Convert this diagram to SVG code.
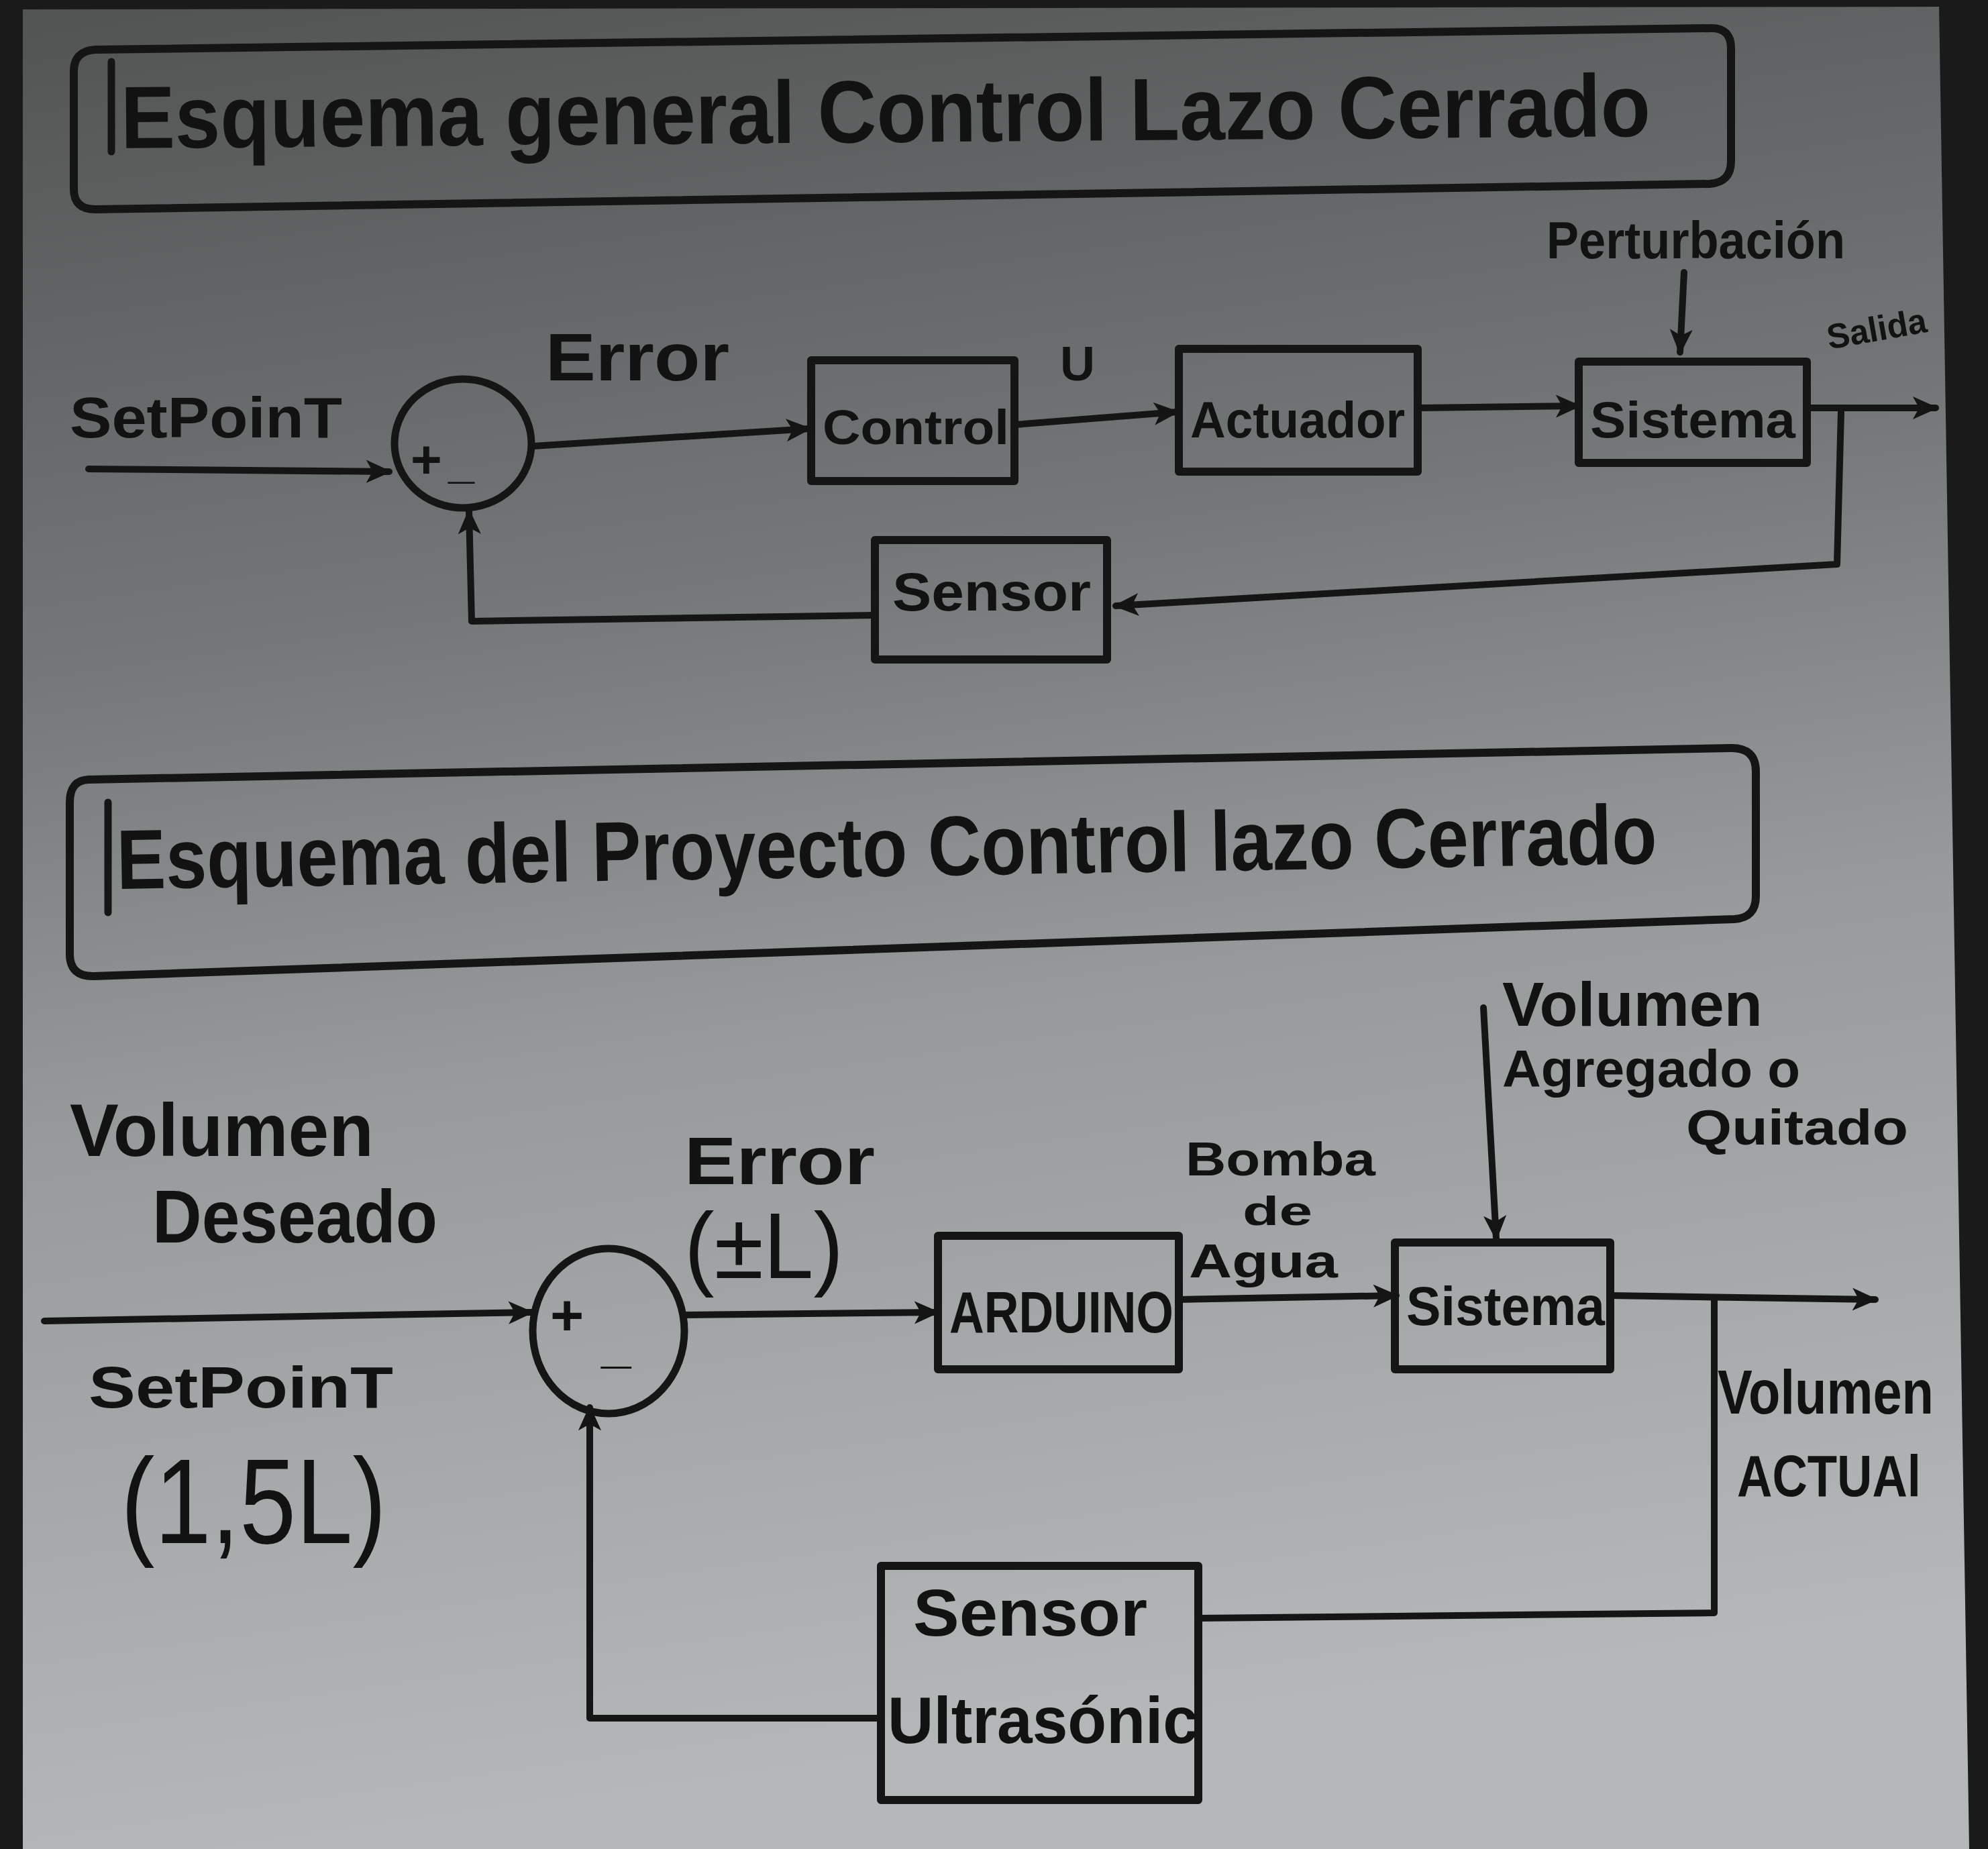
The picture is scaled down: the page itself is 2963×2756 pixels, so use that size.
<svg xmlns="http://www.w3.org/2000/svg" width="2963" height="2756" viewBox="0 0 2963 2756">
  <defs>
    <linearGradient id="paper" x1="0" y1="0" x2="0.15" y2="1">
      <stop offset="0" stop-color="#525454"/>
      <stop offset="0.35" stop-color="#737777"/>
      <stop offset="0.6" stop-color="#969a9a"/>
      <stop offset="1" stop-color="#b4b8b8"/>
    </linearGradient>
    <marker id="arr" viewBox="0 0 10 10" refX="9" refY="5" markerWidth="38" markerHeight="38" markerUnits="userSpaceOnUse" orient="auto">
      <path d="M0,0.5 L10,5 L0,9.5 L2.5,5 z" fill="#141414"/>
    </marker>
  </defs>
  <style>
    .ink { fill: none; stroke: #151515; stroke-width: 11; stroke-linecap: round; stroke-linejoin: round; }
    .box { fill: none; stroke: #151515; stroke-width: 12; stroke-linejoin: round; }
    .wire { fill: none; stroke: #151515; stroke-width: 10; stroke-linecap: round; stroke-linejoin: round; }
    .arrow { marker-end: url(#arr); }
    text { font-family: "Liberation Sans", "DejaVu Sans", sans-serif; font-weight: bold; fill: #121212; }
    text.thin { font-weight: normal; }
  </style>

  <!-- sheet of paper with dark surroundings -->
  <rect x="0" y="0" width="2963" height="2756" fill="#1a1a1a"/>
  <polygon points="34,14 2890,10 2935,2756 34,2756" fill="url(#paper)"/>

  <!-- ===== Upper diagram: general closed-loop scheme ===== -->
  <g id="title1">
    <path class="box" d="M142,74 L2551,42 Q2580,42 2580,72 L2580,240 Q2580,272 2548,274 L142,312 Q110,312 110,282 L110,106 Q110,76 142,74 Z"/>
    <line class="ink" x1="166" y1="92" x2="166" y2="226"/>
    <text x="180" y="212" font-size="132" textLength="2280" lengthAdjust="spacingAndGlyphs" transform="rotate(-0.45 1300 200)">Esquema general Control Lazo Cerrado</text>
  </g>

  <g id="connectors1">
    <polyline class="wire arrow" points="132,699 580,703"/>
    <polyline class="wire arrow" points="794,665 1206,639"/>
    <polyline class="wire arrow" points="1512,633 1754,614"/>
    <polyline class="wire arrow" points="2116,608 2353,605"/>
    <polyline class="wire arrow" points="2693,608 2885,608"/>
    <polyline class="wire arrow" points="2510,406 2504,525"/>
    <polyline class="wire arrow" points="2744,614 2738,841 1663,903"/>
    <polyline class="wire arrow" points="1304,917 703,926 699,762"/>
  </g>

  <g id="setpoint1">
    <text x="104" y="652" font-size="85" textLength="406" lengthAdjust="spacingAndGlyphs">SetPoinT</text>
  </g>
  <g id="sum1">
    <ellipse class="ink" cx="690" cy="661" rx="102" ry="96"/>
    <text x="612" y="712" font-size="80">+</text>
    <text x="668" y="712" font-size="70">_</text>
  </g>
  <g id="error1">
    <text x="813" y="567" font-size="100" textLength="274" lengthAdjust="spacingAndGlyphs">Error</text>
  </g>
  <g id="control">
    <rect class="box" x="1209" y="537" width="303" height="180"/>
    <text x="1226" y="662" font-size="72" textLength="278" lengthAdjust="spacingAndGlyphs">Control</text>
  </g>
  <g id="u">
    <text x="1580" y="567" font-size="72">U</text>
  </g>
  <g id="actuador">
    <rect class="box" x="1757" y="520" width="356" height="183"/>
    <text x="1774" y="652" font-size="76" textLength="320" lengthAdjust="spacingAndGlyphs">Actuador</text>
  </g>
  <g id="sistema1">
    <rect class="box" x="2353" y="539" width="340" height="151"/>
    <text x="2370" y="652" font-size="76" textLength="306" lengthAdjust="spacingAndGlyphs">Sistema</text>
  </g>
  <g id="perturbacion">
    <text x="2305" y="385" font-size="78" textLength="445" lengthAdjust="spacingAndGlyphs">Perturbación</text>
  </g>
  <g id="salida">
    <text x="2722" y="508" font-size="52" textLength="150" lengthAdjust="spacingAndGlyphs" transform="rotate(-10 2797 490)">Salida</text>
  </g>
  <g id="sensor1">
    <rect class="box" x="1304" y="805" width="346" height="178"/>
    <text x="1330" y="910" font-size="80" textLength="296" lengthAdjust="spacingAndGlyphs">Sensor</text>
  </g>

  <!-- ===== Lower diagram: project closed-loop scheme ===== -->
  <g id="title2">
    <path class="box" d="M132,1162 L2579,1115 Q2617,1114 2617,1150 L2617,1336 Q2617,1368 2585,1370 L140,1455 Q104,1456 104,1422 L104,1196 Q104,1163 132,1162 Z"/>
    <line class="ink" x1="161" y1="1196" x2="161" y2="1360"/>
    <text x="174" y="1306" font-size="126" textLength="2296" lengthAdjust="spacingAndGlyphs" transform="rotate(-0.95 1320 1290)">Esquema del Proyecto Control lazo Cerrado</text>
  </g>

  <g id="connectors2">
    <polyline class="wire arrow" points="66,1969 792,1956"/>
    <polyline class="wire arrow" points="1020,1960 1397,1956"/>
    <polyline class="wire arrow" points="1757,1937 2081,1931"/>
    <polyline class="wire arrow" points="2400,1931 2795,1937"/>
    <polyline class="wire arrow" points="2211,1502 2230,1846"/>
    <polyline class="wire" points="2555,1937 2555,2404 1786,2412"/>
    <polyline class="wire arrow" points="1313,2561 879,2561 879,2098"/>
  </g>

  <g id="volumen-deseado">
    <text x="104" y="1723" font-size="112" textLength="453" lengthAdjust="spacingAndGlyphs">Volumen</text>
    <text x="227" y="1852" font-size="112" textLength="425" lengthAdjust="spacingAndGlyphs">Deseado</text>
  </g>
  <g id="setpoint2">
    <text x="132" y="2098" font-size="88" textLength="454" lengthAdjust="spacingAndGlyphs">SetPoinT</text>
    <text class="thin" x="180" y="2300" font-size="180" textLength="396" lengthAdjust="spacingAndGlyphs">(1,5L)</text>
  </g>
  <g id="sum2">
    <ellipse class="ink" cx="907" cy="1984" rx="113" ry="123"/>
    <text x="820" y="1990" font-size="86">+</text>
    <text x="896" y="2030" font-size="80">_</text>
  </g>
  <g id="error2">
    <text x="1020" y="1765" font-size="100" textLength="284" lengthAdjust="spacingAndGlyphs">Error</text>
    <text class="thin" x="1020" y="1905" font-size="140" textLength="237" lengthAdjust="spacingAndGlyphs">(±L)</text>
  </g>
  <g id="arduino">
    <rect class="box" x="1398" y="1842" width="359" height="199"/>
    <text x="1415" y="1986" font-size="88" textLength="334" lengthAdjust="spacingAndGlyphs">ARDUINO</text>
  </g>
  <g id="bomba">
    <text x="1767" y="1752" font-size="70" textLength="283" lengthAdjust="spacingAndGlyphs">Bomba</text>
    <text x="1852" y="1826" font-size="62" textLength="104" lengthAdjust="spacingAndGlyphs">de</text>
    <text x="1772" y="1904" font-size="70" textLength="222" lengthAdjust="spacingAndGlyphs">Agua</text>
  </g>
  <g id="sistema2">
    <rect class="box" x="2079" y="1852" width="321" height="189"/>
    <text x="2096" y="1975" font-size="82" textLength="296" lengthAdjust="spacingAndGlyphs">Sistema</text>
  </g>
  <g id="volumen-agregado">
    <text x="2239" y="1529" font-size="92" textLength="388" lengthAdjust="spacingAndGlyphs">Volumen</text>
    <text x="2239" y="1620" font-size="78" textLength="444" lengthAdjust="spacingAndGlyphs">Agregado o</text>
    <text x="2513" y="1706" font-size="74" textLength="331" lengthAdjust="spacingAndGlyphs">Quitado</text>
  </g>
  <g id="volumen-actual">
    <text x="2560" y="2107" font-size="92" textLength="322" lengthAdjust="spacingAndGlyphs">Volumen</text>
    <text x="2589" y="2230" font-size="88" textLength="274" lengthAdjust="spacingAndGlyphs">ACTUAl</text>
  </g>
  <g id="sensor-ultrasonico">
    <rect class="box" x="1313" y="2334" width="473" height="349"/>
    <text x="1361" y="2438" font-size="98" textLength="349" lengthAdjust="spacingAndGlyphs">Sensor</text>
    <text x="1323" y="2598" font-size="98" textLength="463" lengthAdjust="spacingAndGlyphs">Ultrasónic</text>
  </g>
</svg>
